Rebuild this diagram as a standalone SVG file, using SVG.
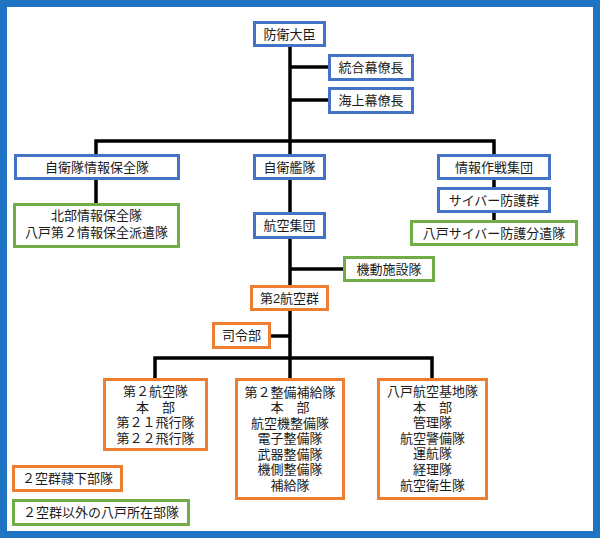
<svg xmlns="http://www.w3.org/2000/svg" width="600" height="538" viewBox="0 0 600 538">
<style>
text{font-family:"Liberation Sans","Noto Sans CJK JP","Noto Sans CJK SC",sans-serif;font-size:13px;fill:#1a1a1a;text-anchor:middle;dominant-baseline:central}
.b{fill:#fff;stroke:#4472c4;stroke-width:3}
.g{fill:#fff;stroke:#70ad47;stroke-width:3}
.o{fill:#fff;stroke:#ed7d31;stroke-width:3}
.c{stroke:#000;stroke-width:3.5;fill:none}
</style>
<rect x="0" y="0" width="600" height="538" fill="#fff"/>
<rect x="3.5" y="3.5" width="593" height="531" fill="none" stroke="#1f74c4" stroke-width="7"/>
<g id="connectors">
<line class="c" x1="290" y1="47" x2="290" y2="378"/>
<line class="c" x1="290" y1="67" x2="328" y2="67"/>
<line class="c" x1="290" y1="100" x2="328" y2="100"/>
<polyline class="c" points="96,154 96,141 494,141 494,154"/>
<line class="c" x1="96" y1="180" x2="96" y2="203"/>
<line class="c" x1="494" y1="180" x2="494" y2="220"/>
<line class="c" x1="290" y1="269" x2="343" y2="269"/>
<line class="c" x1="271" y1="336" x2="290" y2="336"/>
<polyline class="c" points="155,378 155,358 432,358 432,378"/>
</g>
<g id="minister"><rect class="b" x="254.5" y="22.5" width="70" height="23"/><text x="289.5" y="34">防衛大臣</text></g>
<g id="togo"><rect class="b" x="329.5" y="55.5" width="83" height="24"/><text x="371" y="67.5">統合幕僚長</text></g>
<g id="kaijo"><rect class="b" x="329.5" y="88.5" width="83" height="24"/><text x="371" y="100.5">海上幕僚長</text></g>
<g id="hozentai"><rect class="b" x="15.5" y="155.5" width="163" height="23"/><text x="97" y="167">自衛隊情報保全隊</text></g>
<g id="jieikantai"><rect class="b" x="254.5" y="155.5" width="70" height="23"/><text x="289.5" y="167">自衛艦隊</text></g>
<g id="johosakusen"><rect class="b" x="438.5" y="155.5" width="111" height="23"/><text x="494" y="167">情報作戦集団</text></g>
<g id="hokubu"><rect class="g" x="14.5" y="204.5" width="164" height="42"/><text x="96.5" y="214.5"><tspan x="96.5">北部情報保全隊</tspan><tspan x="96.5" dy="17">八戸第２情報保全派遣隊</tspan></text></g>
<g id="kokushudan"><rect class="b" x="254.5" y="213.5" width="70" height="24"/><text x="289.5" y="225.5">航空集団</text></g>
<g id="cyber"><rect class="b" x="438.5" y="188.5" width="111" height="23"/><text x="494" y="200">サイバー防護群</text></g>
<g id="hachinohe-cyber"><rect class="g" x="411.5" y="221.5" width="165" height="23"/><text x="494" y="233">八戸サイバー防護分遣隊</text></g>
<g id="kidou"><rect class="g" x="344.5" y="257.5" width="89" height="23"/><text x="389" y="269">機動施設隊</text></g>
<g id="kokugun2"><rect class="o" x="251.5" y="286.5" width="76" height="23"/><text x="289.5" y="298">第2航空群</text></g>
<g id="shireibu"><rect class="o" x="213.5" y="323.5" width="56" height="24"/><text x="241.5" y="335.5">司令部</text></g>
<g id="kokutai2"><rect class="o" x="104.5" y="379.5" width="102" height="70"/><text x="155.5" y="391"><tspan x="155.5">第２航空隊</tspan><tspan x="155.5" dy="15.6">本　部</tspan><tspan x="155.5" dy="15.6">第２１飛行隊</tspan><tspan x="155.5" dy="15.6">第２２飛行隊</tspan></text></g>
<g id="seibi2"><rect class="o" x="236.5" y="379.5" width="107" height="119"/><text x="290" y="391.5"><tspan x="290">第２整備補給隊</tspan><tspan x="290" dy="15.5">本　部</tspan><tspan x="290" dy="15.5">航空機整備隊</tspan><tspan x="290" dy="15.5">電子整備隊</tspan><tspan x="290" dy="15.5">武器整備隊</tspan><tspan x="290" dy="15.5">機側整備隊</tspan><tspan x="290" dy="15.5">補給隊</tspan></text></g>
<g id="kichitai"><rect class="o" x="378.5" y="379.5" width="108" height="119"/><text x="432.5" y="391"><tspan x="432.5">八戸航空基地隊</tspan><tspan x="432.5" dy="15.6">本　部</tspan><tspan x="432.5" dy="15.6">管理隊</tspan><tspan x="432.5" dy="15.6">航空警備隊</tspan><tspan x="432.5" dy="15.6">運航隊</tspan><tspan x="432.5" dy="15.6">経理隊</tspan><tspan x="432.5" dy="15.6">航空衛生隊</tspan></text></g>
<g id="legend-orange"><rect class="o" x="13.5" y="466.5" width="108" height="24"/><text x="67.5" y="478.5">２空群隷下部隊</text></g>
<g id="legend-green"><rect class="g" x="13.5" y="500.5" width="175" height="24"/><text x="101" y="512.5">２空群以外の八戸所在部隊</text></g>
</svg>
